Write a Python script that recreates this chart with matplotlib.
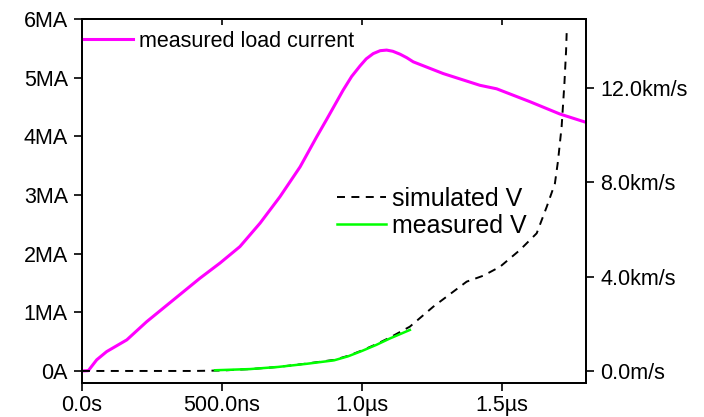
import matplotlib
matplotlib.use("Agg")
import matplotlib.pyplot as plt
import numpy as np

plt.rcParams['font.family'] = ['Liberation Sans', 'DejaVu Sans']
plt.rcParams['font.size'] = 15.5

# measured load current (time in us, current in MA)
cur_t = [0.0, 0.0225, 0.0525, 0.088, 0.124, 0.160, 0.231, 0.326, 0.421, 0.493, 0.564,
         0.636, 0.707, 0.779, 0.838, 0.874, 0.933, 0.963, 0.993, 1.015, 1.040, 1.065,
         1.088, 1.110, 1.136, 1.160, 1.183, 1.290, 1.421, 1.481, 1.600, 1.707, 1.799]
cur_I = [0.0, 0.005, 0.19, 0.33, 0.43, 0.53, 0.84, 1.21, 1.58, 1.84, 2.12,
         2.52, 2.97, 3.48, 3.99, 4.29, 4.79, 5.02, 5.20, 5.32, 5.41, 5.46,
         5.47, 5.45, 5.40, 5.34, 5.27, 5.07, 4.87, 4.81, 4.59, 4.38, 4.24]

# simulated velocity (time in us, km/s)
sim_t = [0.0, 0.40, 0.50, 0.60, 0.70, 0.80, 0.90, 0.95, 1.00, 1.05, 1.10, 1.171, 1.255,
         1.374, 1.433, 1.493, 1.564, 1.624, 1.660, 1.689, 1.700, 1.713, 1.723, 1.729, 1.731]
sim_v = [0.0, 0.0, 0.02, 0.08, 0.17, 0.31, 0.47, 0.64, 0.87, 1.13, 1.42, 1.88, 2.73,
         3.79, 4.04, 4.42, 5.13, 5.84, 6.97, 7.95, 8.9, 10.36, 12.2, 13.6, 14.33]

# measured velocity
meas_t = [0.475, 0.60, 0.70, 0.80, 0.90, 0.95, 1.00, 1.05, 1.10, 1.171]
meas_v = [0.03, 0.08, 0.17, 0.30, 0.45, 0.62, 0.85, 1.10, 1.38, 1.74]

x_ticks = [0.0, 0.5, 1.0, 1.5]
x_labels = ['0.0s', '500.0ns', '1.0\u00b5s', '1.5\u00b5s']
i_ticks = [0, 1, 2, 3, 4, 5, 6]
i_labels = ['0A', '1MA', '2MA', '3MA', '4MA', '5MA', '6MA']
v_ticks = [0.0, 4.0, 8.0, 12.0]
v_labels = ['0.0m/s', '4.0km/s', '8.0km/s', '12.0km/s']

fig = plt.figure(figsize=(7.04, 4.17), dpi=100)
ax = fig.add_axes([82/704, 1-382.7/417, (585.7-82)/704, (382.7-19)/417])
ax2 = ax.twinx()

l1, = ax.plot(cur_t, cur_I, color='#ff00ff', lw=2.2, label='measured load current')
l2, = ax2.plot(sim_t, sim_v, color='black', lw=1.4, ls=(0, (4.1, 3.3)), label='simulated V')
l3, = ax2.plot(meas_t, meas_v, color='#00ff00', lw=1.8, label='measured V')

ax.set_xlim(0, 1.799)
ax.set_ylim(-0.2, 6.0)
ax2.set_ylim(-0.498, 14.93)

ax.set_xticks(x_ticks)
ax.set_xticklabels(x_labels)
ax.set_yticks(i_ticks)
ax.set_yticklabels(i_labels)
ax2.set_yticks(v_ticks)
ax2.set_yticklabels(v_labels)

for a in (ax, ax2):
    for s in a.spines.values():
        s.set_linewidth(1.3)
ax.tick_params(axis='y', direction='out', length=5.8, width=1.2, pad=4.3)
ax.tick_params(axis='x', direction='out', length=5.5, width=1.2, pad=3)
ax2.tick_params(direction='out', length=5.5, width=1.2, pad=4.8)

top = ax.secondary_xaxis('top')
top.set_xticks(x_ticks[1:])
top.tick_params(direction='in', length=4.5, width=1.2, labeltop=False)
top.spines['top'].set_linewidth(1.3)

ax.legend(handles=[l1], loc='upper left', bbox_to_anchor=(82/704, 1-31/417),
          bbox_transform=fig.transFigure, frameon=False, borderpad=0, borderaxespad=0,
          handlelength=2.37, handletextpad=0.28)
ax2.legend(handles=[l2, l3], loc='upper left', bbox_to_anchor=(337/704, 1-187/417),
           bbox_transform=fig.transFigure, frameon=False, borderpad=0, borderaxespad=0,
           fontsize=18, handlelength=1.96, handletextpad=0.23, labelspacing=0.12)

fig.savefig('out.png', dpi=100)
